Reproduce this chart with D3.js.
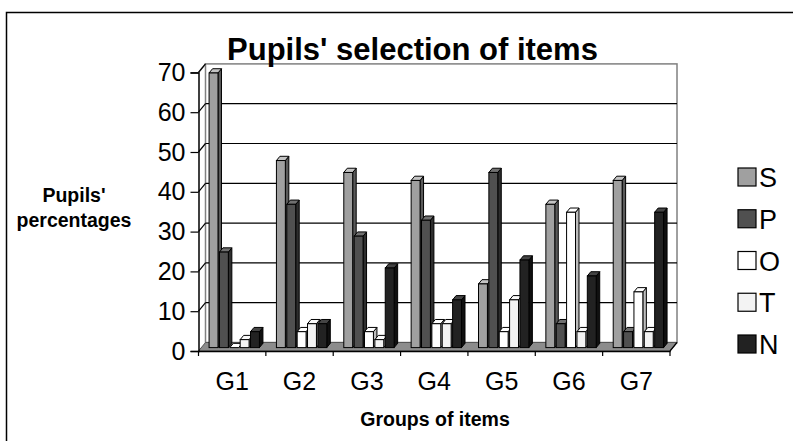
<!DOCTYPE html>
<html>
<head>
<meta charset="utf-8">
<script src="https://cdn.jsdelivr.net/npm/d3@7"></script>
<style>
  html, body { margin: 0; padding: 0; background: #fff; }
  svg { display: block; font-family: "Liberation Sans", Arial, sans-serif; }
</style>
</head>
<body>
<svg id="chart" width="793" height="441"></svg>
<script>
// ---- data ----
const categories = ["G1", "G2", "G3", "G4", "G5", "G6", "G7"];
const seriesNames = ["S", "P", "O", "T", "N"];
const S = [69, 47, 44, 42, 16, 36, 42];
const P = [24, 36, 28, 32, 44, 6, 4];
const O = [0, 4, 4, 6, 4, 34, 14];
const T = [2, 6, 2, 6, 12, 4, 4];
const N = [4, 6, 20, 12, 22, 18, 34];
const yTicks = [0, 10, 20, 30, 40, 50, 60, 70];

const seriesValues = { S, P, O, T, N };
const fills = {
  S: { front: "#a0a0a0", side: "#5a5a5a", top: "#c4c4c4" },
  P: { front: "#505050", side: "#2e2e2e", top: "#707070" },
  O: { front: "#ffffff", side: "#bdbdbd", top: "#ffffff" },
  T: { front: "#f3f3f3", side: "#bcbcbc", top: "#fafafa" },
  N: { front: "#222222", side: "#101010", top: "#444444" }
};

const svg = d3.select("#chart");

// chart-area border (left and top edges)
svg.append("path")
  .attr("d", "M6.5,441 V12.5 H793")
  .attr("fill", "none").attr("stroke", "#000").attr("stroke-width", 1.5);

// ---- 3D plot geometry ----
const depth = { dx: 7, dy: -8.5 };
const x = d3.scaleBand().domain(categories).range([198.5, 670]);
const y = d3.scaleLinear().domain([0, 70]).range([351, 72.4]);
const xs = d3.scaleBand().domain(seriesNames).range([0, x.bandwidth()])
  .paddingInner(0).paddingOuter(0.75);
const [xL, xR] = x.range();

const plot = svg.append("g");

// back wall
plot.append("rect")
  .attr("x", xL + depth.dx).attr("y", y(70) + depth.dy)
  .attr("width", xR - xL).attr("height", y(0) - y(70))
  .attr("fill", "#fff").attr("stroke", "#808080").attr("stroke-width", 1.5);

// side wall outline
plot.append("path")
  .attr("d", `M${xL},${y(70)} L${xL + depth.dx},${y(70) + depth.dy}`)
  .attr("fill", "none").attr("stroke", "#808080").attr("stroke-width", 1.5);

// gridlines across back wall and side wall
const grid = plot.append("g");
grid.selectAll("line.back").data(yTicks.filter(d => d > 0 && d < 70)).join("line")
  .attr("class", "back")
  .attr("x1", xL + depth.dx).attr("x2", xR + depth.dx)
  .attr("y1", d => y(d) + depth.dy).attr("y2", d => y(d) + depth.dy)
  .attr("stroke", "#000").attr("stroke-width", 1.2);
grid.selectAll("line.side").data(yTicks.filter(d => d > 0)).join("line")
  .attr("class", "side")
  .attr("x1", xL).attr("x2", xL + depth.dx)
  .attr("y1", d => y(d)).attr("y2", d => y(d) + depth.dy)
  .attr("stroke", "#000").attr("stroke-width", 1.2);

// floor
plot.append("path")
  .attr("d", `M${xL},${y(0)} L${xR},${y(0)} L${xR + depth.dx},${y(0) + depth.dy} L${xL + depth.dx},${y(0) + depth.dy} Z`)
  .attr("fill", "#8c8c8c").attr("stroke", "#555").attr("stroke-width", 1);

// ---- bars ----
const f0 = 0.4, bd = 0.5;
const ox = f0 * depth.dx, oy = f0 * depth.dy;
const bdx = bd * depth.dx, bdy = bd * depth.dy;
const bw = xs.step() * 0.86;

const barData = [];
categories.forEach((c, i) => {
  seriesNames.forEach(s => barData.push({ c, s, v: seriesValues[s][i] }));
});

plot.append("g").selectAll("g.bar").data(barData).join("g").attr("class", "bar")
  .each(function (d) {
    const g = d3.select(this);
    const x0 = x(d.c) + xs(d.s) + ox, x1 = x0 + bw;
    const yb = y(0) + oy, yt = y(d.v) + oy;
    const col = fills[d.s];
    g.append("path")
      .attr("d", `M${x1},${yb} L${x1 + bdx},${yb + bdy} L${x1 + bdx},${yt + bdy} L${x1},${yt} Z`)
      .attr("fill", col.side).attr("stroke", "#000").attr("stroke-width", 1).attr("stroke-linejoin", "round");
    g.append("path")
      .attr("d", `M${x0},${yt} L${x1},${yt} L${x1 + bdx},${yt + bdy} L${x0 + bdx},${yt + bdy} Z`)
      .attr("fill", col.top).attr("stroke", "#000").attr("stroke-width", 1).attr("stroke-linejoin", "round");
    g.append("rect")
      .attr("x", x0).attr("y", yt).attr("width", bw).attr("height", yb - yt)
      .attr("fill", col.front).attr("stroke", "#000").attr("stroke-width", 1);
  });

// ---- axes ----
const yAxis = d3.axisLeft(y).tickValues(yTicks).tickSize(8).tickPadding(5);
const gy = svg.append("g").attr("transform", `translate(${xL},0)`).call(yAxis);
gy.select(".domain").attr("stroke", "#000").attr("stroke-width", 1.5);
gy.selectAll(".tick line").attr("stroke", "#000").attr("stroke-width", 1.2);
gy.selectAll(".tick text").attr("font-size", 25).attr("fill", "#000")
  .attr("font-family", "Liberation Sans, Arial, sans-serif");

const xAxis = d3.axisBottom(x).tickSize(0).tickPadding(21);
const gx = svg.append("g").attr("transform", `translate(0,${y(0)})`).call(xAxis);
gx.select(".domain").attr("stroke", "#000").attr("stroke-width", 1.5);
gx.selectAll(".tick text").attr("font-size", 25).attr("fill", "#000")
  .attr("font-family", "Liberation Sans, Arial, sans-serif");
// category boundary ticks
gx.selectAll("line.sep").data(categories.concat([null])).join("line").attr("class", "sep")
  .attr("x1", (d, i) => xL + i * x.step()).attr("x2", (d, i) => xL + i * x.step())
  .attr("y1", 0).attr("y2", 5).attr("stroke", "#000").attr("stroke-width", 1.2);
// right front edge of the floor
svg.append("line")
  .attr("x1", xR).attr("y1", y(0)).attr("x2", xR + depth.dx).attr("y2", y(0) + depth.dy)
  .attr("stroke", "#000").attr("stroke-width", 1.2);

// ---- titles ----
svg.append("text").attr("x", 412.5).attr("y", 60).attr("text-anchor", "middle")
  .attr("font-size", 31).attr("font-weight", "bold").text("Pupils' selection of items");

const yTitle = svg.append("text").attr("text-anchor", "middle").attr("font-size", 19.5).attr("font-weight", "bold");
yTitle.append("tspan").attr("x", 74).attr("y", 202).text("Pupils'");
yTitle.append("tspan").attr("x", 74).attr("y", 227).text("percentages");

svg.append("text").attr("x", 435).attr("y", 426).attr("text-anchor", "middle")
  .attr("font-size", 19.5).attr("font-weight", "bold").text("Groups of items");

// ---- legend ----
const legend = svg.append("g").attr("transform", "translate(738,0)");
const legendY = d3.scalePoint().domain(seriesNames).range([177, 344]);
const li = legend.selectAll("g").data(seriesNames).join("g")
  .attr("transform", d => `translate(0,${legendY(d)})`);
li.append("rect").attr("x", 0).attr("y", -9).attr("width", 18).attr("height", 18)
  .attr("fill", d => fills[d].front).attr("stroke", "#000").attr("stroke-width", 1.2);
li.append("text").attr("x", 21).attr("y", 10).attr("font-size", 27).text(d => d);
</script>
</body>
</html>
